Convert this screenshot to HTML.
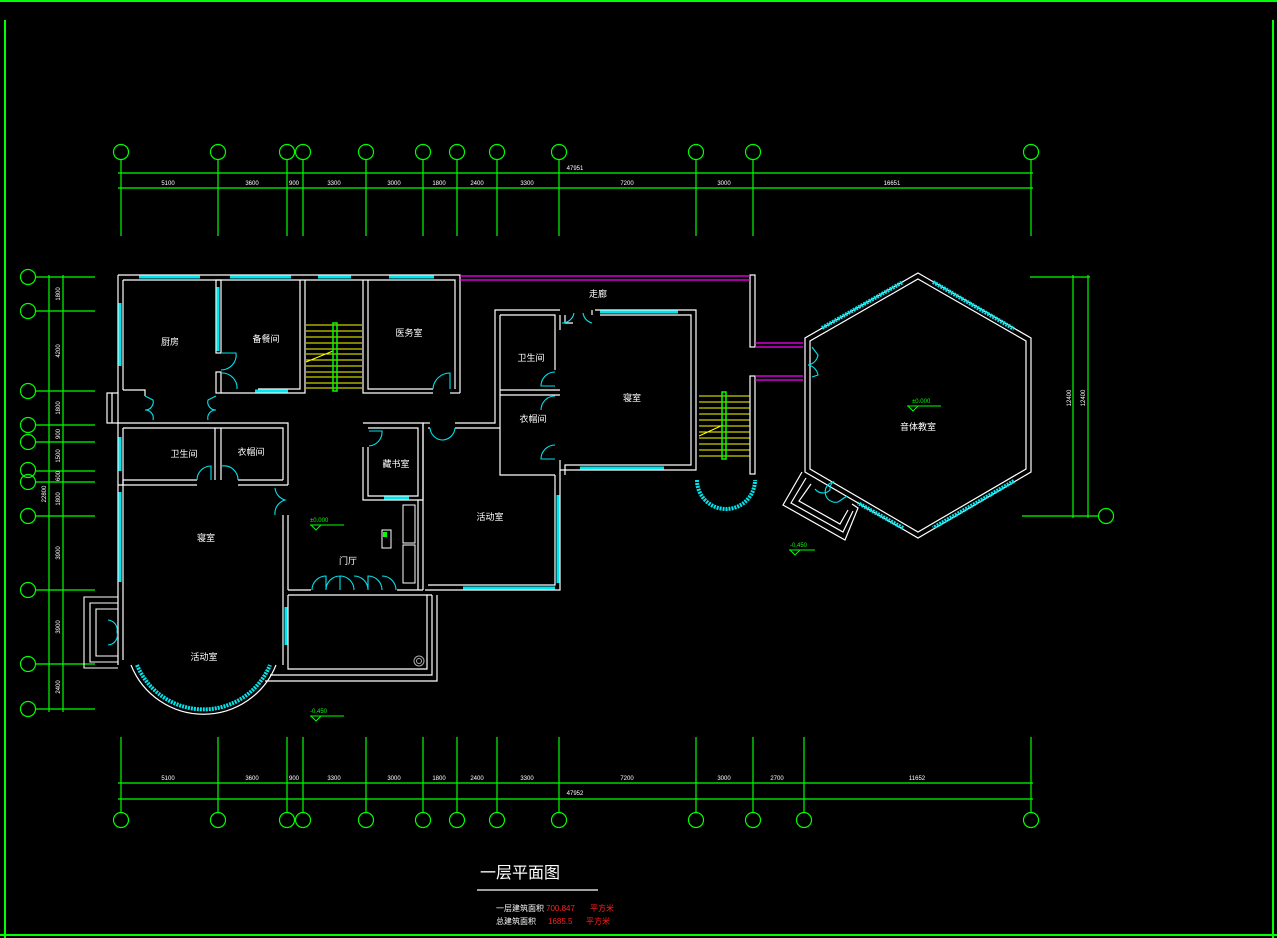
<!DOCTYPE html>
<html><head><meta charset="utf-8"><style>
html,body{margin:0;padding:0;background:#000;}
svg{display:block}
text{font-family:"Liberation Sans","Noto Sans CJK SC",sans-serif;}
</style></head><body>
<svg width="1277" height="938" viewBox="0 0 1277 938" xmlns="http://www.w3.org/2000/svg">
<rect width="1277" height="938" fill="#000"/>
<!-- frame -->
<g stroke="#00ff00" stroke-width="2" fill="none">
<line x1="0" y1="1" x2="1277" y2="1"/>
<line x1="5" y1="20" x2="5" y2="938"/>
<line x1="0" y1="935" x2="1277" y2="935"/>
<line x1="1273" y1="20" x2="1273" y2="938"/>
</g>
<!-- top axes -->
<g stroke="#00ff00" stroke-width="1.2" fill="none">
<line x1="118" y1="173" x2="1033" y2="173"/>
<line x1="118" y1="188" x2="1033" y2="188"/>
<line x1="121" y1="160" x2="121" y2="236"/><circle cx="121" cy="152" r="7.5"/>
<line x1="218" y1="160" x2="218" y2="236"/><circle cx="218" cy="152" r="7.5"/>
<line x1="287" y1="160" x2="287" y2="236"/><circle cx="287" cy="152" r="7.5"/>
<line x1="303" y1="160" x2="303" y2="236"/><circle cx="303" cy="152" r="7.5"/>
<line x1="366" y1="160" x2="366" y2="236"/><circle cx="366" cy="152" r="7.5"/>
<line x1="423" y1="160" x2="423" y2="236"/><circle cx="423" cy="152" r="7.5"/>
<line x1="457" y1="160" x2="457" y2="236"/><circle cx="457" cy="152" r="7.5"/>
<line x1="497" y1="160" x2="497" y2="236"/><circle cx="497" cy="152" r="7.5"/>
<line x1="559" y1="160" x2="559" y2="236"/><circle cx="559" cy="152" r="7.5"/>
<line x1="696" y1="160" x2="696" y2="236"/><circle cx="696" cy="152" r="7.5"/>
<line x1="753" y1="160" x2="753" y2="236"/><circle cx="753" cy="152" r="7.5"/>
<line x1="1031" y1="160" x2="1031" y2="236"/><circle cx="1031" cy="152" r="7.5"/>
</g>
<g fill="#fff" font-size="6" text-anchor="middle">
<text x="168" y="185">5100</text><text x="252" y="185">3600</text><text x="294" y="185">900</text><text x="334" y="185">3300</text><text x="394" y="185">3000</text><text x="439" y="185">1800</text><text x="477" y="185">2400</text><text x="527" y="185">3300</text><text x="627" y="185">7200</text><text x="724" y="185">3000</text><text x="892" y="185">16651</text><text x="575" y="170">47951</text>
</g>
<!-- bottom axes -->
<g stroke="#00ff00" stroke-width="1.2" fill="none">
<line x1="118" y1="783" x2="1033" y2="783"/>
<line x1="118" y1="799" x2="1033" y2="799"/>
<line x1="121" y1="737" x2="121" y2="813"/><circle cx="121" cy="820" r="7.5"/>
<line x1="218" y1="737" x2="218" y2="813"/><circle cx="218" cy="820" r="7.5"/>
<line x1="287" y1="737" x2="287" y2="813"/><circle cx="287" cy="820" r="7.5"/>
<line x1="303" y1="737" x2="303" y2="813"/><circle cx="303" cy="820" r="7.5"/>
<line x1="366" y1="737" x2="366" y2="813"/><circle cx="366" cy="820" r="7.5"/>
<line x1="423" y1="737" x2="423" y2="813"/><circle cx="423" cy="820" r="7.5"/>
<line x1="457" y1="737" x2="457" y2="813"/><circle cx="457" cy="820" r="7.5"/>
<line x1="497" y1="737" x2="497" y2="813"/><circle cx="497" cy="820" r="7.5"/>
<line x1="559" y1="737" x2="559" y2="813"/><circle cx="559" cy="820" r="7.5"/>
<line x1="696" y1="737" x2="696" y2="813"/><circle cx="696" cy="820" r="7.5"/>
<line x1="753" y1="737" x2="753" y2="813"/><circle cx="753" cy="820" r="7.5"/>
<line x1="804" y1="737" x2="804" y2="813"/><circle cx="804" cy="820" r="7.5"/>
<line x1="1031" y1="737" x2="1031" y2="813"/><circle cx="1031" cy="820" r="7.5"/>
</g>
<g fill="#fff" font-size="6" text-anchor="middle">
<text x="168" y="780">5100</text><text x="252" y="780">3600</text><text x="294" y="780">900</text><text x="334" y="780">3300</text><text x="394" y="780">3000</text><text x="439" y="780">1800</text><text x="477" y="780">2400</text><text x="527" y="780">3300</text><text x="627" y="780">7200</text><text x="724" y="780">3000</text><text x="777" y="780">2700</text><text x="917" y="780">11652</text><text x="575" y="795">47952</text>
</g>
<!-- left axes -->
<g stroke="#00ff00" stroke-width="1.2" fill="none">
<line x1="49" y1="275" x2="49" y2="712"/>
<line x1="63" y1="275" x2="63" y2="712"/>
<line x1="36" y1="277" x2="95" y2="277"/><circle cx="28" cy="277" r="7.5"/>
<line x1="36" y1="311" x2="95" y2="311"/><circle cx="28" cy="311" r="7.5"/>
<line x1="36" y1="391" x2="95" y2="391"/><circle cx="28" cy="391" r="7.5"/>
<line x1="36" y1="425" x2="95" y2="425"/><circle cx="28" cy="425" r="7.5"/>
<line x1="36" y1="442" x2="95" y2="442"/><circle cx="28" cy="442" r="7.5"/>
<line x1="36" y1="471" x2="95" y2="471"/><circle cx="28" cy="470" r="7.5"/>
<line x1="36" y1="482" x2="95" y2="482"/><circle cx="28" cy="482" r="7.5"/>
<line x1="36" y1="516" x2="95" y2="516"/><circle cx="28" cy="516" r="7.5"/>
<line x1="36" y1="590" x2="95" y2="590"/><circle cx="28" cy="590" r="7.5"/>
<line x1="36" y1="664" x2="95" y2="664"/><circle cx="28" cy="664" r="7.5"/>
<line x1="36" y1="709" x2="95" y2="709"/><circle cx="28" cy="709" r="7.5"/>
</g>
<g fill="#fff" font-size="6" text-anchor="middle">
<text transform="translate(60,294) rotate(-90)">1800</text>
<text transform="translate(60,351) rotate(-90)">4200</text>
<text transform="translate(60,408) rotate(-90)">1800</text>
<text transform="translate(60,434) rotate(-90)">900</text>
<text transform="translate(60,456) rotate(-90)">1500</text>
<text transform="translate(60,476) rotate(-90)">600</text>
<text transform="translate(60,499) rotate(-90)">1800</text>
<text transform="translate(60,553) rotate(-90)">3900</text>
<text transform="translate(60,627) rotate(-90)">3900</text>
<text transform="translate(60,687) rotate(-90)">2400</text>
<text transform="translate(46,494) rotate(-90)">22800</text>
</g>
<!-- right axes -->
<g stroke="#00ff00" stroke-width="1.2" fill="none">
<line x1="1030" y1="277" x2="1090" y2="277"/>
<line x1="1022" y1="516" x2="1098" y2="516"/>
<line x1="1073" y1="275" x2="1073" y2="518"/>
<line x1="1088" y1="275" x2="1088" y2="518"/>
<circle cx="1106" cy="516" r="7.5"/>
</g>
<g fill="#fff" font-size="6" text-anchor="middle">
<text transform="translate(1071,398) rotate(-90)">12400</text>
<text transform="translate(1085,398) rotate(-90)">12400</text>
</g>

<!-- walls -->
<g stroke="#fff" stroke-width="1.2" fill="none">
<polyline points="118,275 460,275 460,393"/>
<polyline points="123,280 455,280 455,389"/>
<line x1="118" y1="275" x2="118" y2="393"/><line x1="123" y1="280" x2="123" y2="390"/>
<polyline points="123,390 145,390 145,396"/>
<rect x="107" y="393" width="11" height="30"/><line x1="112" y1="393" x2="112" y2="423"/>
<line x1="118" y1="423" x2="118" y2="665"/><line x1="123" y1="428" x2="123" y2="660"/>
<rect x="216" y="280" width="5" height="73"/>
<rect x="216" y="372" width="5" height="21"/>
<polyline points="221,393 241,393"/><polyline points="258,389 300,389 300,280"/><polyline points="241,393 305,393 305,280"/>
<polyline points="363,280 363,393 433,393"/><polyline points="368,280 368,389 433,389"/>
<polyline points="450,393 460,393"/>
<polyline points="118,423 288,423 288,485"/>
<polyline points="123,428 283,428 283,480"/>
<line x1="215" y1="428" x2="215" y2="480"/><line x1="221" y1="428" x2="221" y2="480"/>
<polyline points="123,480 197,480"/><polyline points="238,480 283,480"/>
<polyline points="118,485 197,485"/><polyline points="238,485 288,485"/>
<line x1="123" y1="480" x2="123" y2="485"/>
<line x1="283" y1="515" x2="283" y2="665"/><line x1="288" y1="515" x2="288" y2="590"/>
<polyline points="288,590 311,590"/><polyline points="397,590 423,590"/>
<polyline points="288,595 432,595"/>
<polyline points="288,595 288,669 427,669 427,595"/>
<polyline points="270,675 432,675 432,595"/><polyline points="265,681 437,681 437,595"/>
<polyline points="363,423 423,423 423,500 363,500 363,447"/>
<polyline points="368,428 418,428 418,496 368,496 368,447"/>
<line x1="423" y1="423" x2="423" y2="590"/><line x1="418" y1="500" x2="418" y2="590"/>
<polyline points="423,423 430,423"/><polyline points="455,423 495,423 495,310 560,310"/>
<polyline points="428,428 430,428"/><polyline points="455,428 500,428"/>
<polyline points="425,590 560,590 560,470 696,470 696,310 595,310"/>
<polyline points="428,585 555,585 555,475"/>
<polyline points="500,315 555,315 555,370"/><polyline points="500,315 500,475 555,475"/>
<line x1="500" y1="390" x2="560" y2="390"/><line x1="500" y1="395" x2="560" y2="395"/>
<polyline points="560,315 560,330"/><polyline points="560,470 560,460"/>
<polyline points="565,315 565,323 573,323"/>
<polyline points="592,315 592,310"/>
<polyline points="600,315 691,315 691,465 565,465 565,475"/>
<rect x="750" y="275" width="5" height="72"/>
<rect x="750" y="376" width="5" height="98"/>
<!-- hexagon -->
<polygon points="918,273 1031,338 1031,472 918,538 805,472 805,338"/>
<polygon points="918,279 1026,341 1026,469 918,532 810,469 810,341"/>
<!-- vestibule -->
<polyline points="802,472 783,505 845,540 858,508 852,504"/>
<polyline points="806,478 791,503 843,532 853,511"/>
<polyline points="811,484 799,501 840,524 848,510"/>
</g>
<!-- magenta -->
<g stroke="#ff00ff" stroke-width="1.2">
<line x1="460" y1="276" x2="750" y2="276"/><line x1="460" y1="280" x2="750" y2="280"/>
<line x1="755" y1="343" x2="803" y2="343"/><line x1="755" y1="347" x2="803" y2="347"/>
<line x1="755" y1="376" x2="803" y2="376"/><line x1="755" y1="380" x2="803" y2="380"/>
</g>
<!-- cyan windows -->
<g stroke="#00e5ee" stroke-width="3" fill="none">
<line x1="139" y1="277" x2="200" y2="277"/><line x1="230" y1="277" x2="291" y2="277"/>
<line x1="318" y1="277" x2="351" y2="277"/><line x1="389" y1="277" x2="434" y2="277"/>
<line x1="120" y1="303" x2="120" y2="366"/><line x1="218" y1="287" x2="218" y2="351"/>
<line x1="120" y1="437" x2="120" y2="471"/><line x1="120" y1="492" x2="120" y2="582"/>
<line x1="255" y1="391" x2="288" y2="391"/><line x1="384" y1="498" x2="409" y2="498"/>
<line x1="286" y1="607" x2="286" y2="645"/><line x1="463" y1="588" x2="555" y2="588"/>
<line x1="558" y1="495" x2="558" y2="583"/><line x1="600" y1="312" x2="678" y2="312"/>
<line x1="580" y1="468" x2="664" y2="468"/>
</g>
<g stroke="#00e5ee" stroke-width="4" fill="none" stroke-dasharray="2 1">
<path d="M137,665 A72,72 0 0 0 270,665"/>
<path d="M697,480 A29,29 0 0 0 755,480"/>
<line x1="822" y1="328" x2="903" y2="282"/><line x1="933" y1="282" x2="1014" y2="329"/>
<line x1="1014" y1="481" x2="933" y2="528"/><line x1="903" y1="528" x2="858" y2="503"/>
</g>
<g stroke="#fff" stroke-width="1.2" fill="none">
<path d="M131,665 A78,78 0 0 0 276,665"/>
</g>
<!-- doors -->
<g stroke="#00e5ee" stroke-width="1.1" fill="none">
<path d="M221,353 L236,353 A15,15 0 0 1 221,370"/><path d="M222,373 A15,15 0 0 1 237,389"/>
<path d="M433,389 A17,17 0 0 1 450,373 L450,389"/>
<path d="M197,480 A14,14 0 0 1 211,466 L211,480"/><path d="M222,466 A14,14 0 0 1 238,480"/>
<path d="M145,396 L153,400 A8,8 0 0 1 145,410 A8,8 0 0 1 153,420"/>
<path d="M216,396 L208,400 A8,8 0 0 0 216,410 A8,8 0 0 0 208,420"/>
<path d="M275,488 A14,14 0 0 0 285,500 A14,14 0 0 0 275,515"/>
<path d="M369,431 L382,431 A14,14 0 0 1 369,446"/>
<path d="M430,428 A13,13 0 0 0 442,440 A13,13 0 0 0 455,428"/>
<path d="M312,590 A14,14 0 0 1 326,576 L326,590 A14,14 0 0 1 340,576 M340,590 L340,576 A14,14 0 0 1 354,590 M354,576 A14,14 0 0 1 368,590 L368,576 A14,14 0 0 1 382,590 M382,576 A14,14 0 0 1 396,590"/>
<path d="M555,372 A14,14 0 0 0 541,386 L555,386"/><path d="M555,396 A14,14 0 0 0 541,410"/><path d="M555,445 A14,14 0 0 0 541,459 L555,459"/>
<path d="M562,323 A12,12 0 0 0 574,313 M583,313 A12,12 0 0 0 592,323"/>
<path d="M812,347 L818,355 A12,12 0 0 1 808,365 A12,12 0 0 1 818,375 L812,377"/>
<path d="M815,489 A10,10 0 0 0 830,490 A10,10 0 0 1 833,482 A10,10 0 0 0 838,502 L847,496"/>
<path d="M108,620 A10,10 0 0 1 117,632 A10,10 0 0 1 108,645"/>
</g>
<g stroke="#fff" stroke-width="1.1" fill="none">
<polyline points="118,597 84,597 84,668 118,668"/><polyline points="118,603 90,603 90,662 118,662"/><polyline points="118,609 96,609 96,656 118,656"/>
</g>
<!-- stairs -->
<g stroke="#ffff00" stroke-width="1">
<line x1="306" y1="325" x2="362" y2="325"/><line x1="306" y1="331" x2="362" y2="331"/><line x1="306" y1="337" x2="362" y2="337"/><line x1="306" y1="343" x2="362" y2="343"/><line x1="306" y1="349" x2="362" y2="349"/><line x1="306" y1="354" x2="362" y2="354"/><line x1="306" y1="360" x2="362" y2="360"/><line x1="306" y1="366" x2="362" y2="366"/><line x1="306" y1="372" x2="362" y2="372"/><line x1="306" y1="377" x2="362" y2="377"/><line x1="306" y1="383" x2="362" y2="383"/><line x1="306" y1="388" x2="362" y2="388"/>
<line x1="306" y1="362" x2="333" y2="351"/>
<line x1="699" y1="396" x2="750" y2="396"/><line x1="699" y1="402" x2="750" y2="402"/><line x1="699" y1="408" x2="750" y2="408"/><line x1="699" y1="414" x2="750" y2="414"/><line x1="699" y1="420" x2="750" y2="420"/><line x1="699" y1="426" x2="750" y2="426"/><line x1="699" y1="432" x2="750" y2="432"/><line x1="699" y1="438" x2="750" y2="438"/><line x1="699" y1="444" x2="750" y2="444"/><line x1="699" y1="450" x2="750" y2="450"/><line x1="699" y1="456" x2="750" y2="456"/>
<line x1="699" y1="436" x2="723" y2="425"/>
</g>
<rect x="333" y="323" width="4" height="68" fill="none" stroke="#00ff00" stroke-width="1.5"/>
<rect x="722" y="392" width="4" height="67" fill="none" stroke="#00ff00" stroke-width="1.5"/>
<g stroke="#fff" stroke-width="1" fill="none">
<rect x="403" y="505" width="12" height="38"/><rect x="403" y="545" width="12" height="38"/>
<rect x="382" y="530" width="9" height="18"/>
<circle cx="419" cy="661" r="5" stroke="#aaa"/><circle cx="419" cy="661" r="2.5" stroke="#aaa"/>
</g>
<rect x="383" y="532" width="4" height="5" fill="#00ff00"/>
<g stroke="#00ff00" stroke-width="1" fill="none">
<line x1="310" y1="525" x2="344" y2="525"/><path d="M311,525 L316,530 L321,525"/>
<line x1="310" y1="716" x2="344" y2="716"/><path d="M311,716 L316,721 L321,716"/>
<line x1="789" y1="550" x2="815" y2="550"/><path d="M790,550 L795,555 L800,550"/>
<line x1="907" y1="406" x2="941" y2="406"/><path d="M908,406 L913,411 L918,406"/>
</g>
<g fill="#00ff00" font-size="6">
<text x="310" y="522">±0.000</text><text x="310" y="713">-0.450</text><text x="790" y="547">-0.450</text><text x="912" y="403">±0.000</text>
</g>
<g fill="#fff" font-size="9" text-anchor="middle">
<text x="170" y="345">厨房</text><text x="266" y="342">备餐间</text><text x="409" y="336">医务室</text>
<text x="184" y="457">卫生间</text><text x="251" y="455">衣帽间</text>
<text x="206" y="541">寝室</text><text x="204" y="660">活动室</text>
<text x="348" y="564">门厅</text><text x="396" y="467">藏书室</text><text x="490" y="520">活动室</text>
<text x="531" y="361">卫生间</text><text x="533" y="422">衣帽间</text><text x="632" y="401">寝室</text>
<text x="598" y="297">走廊</text><text x="918" y="430">音体教室</text>
</g>
<text x="480" y="878" fill="#fff" font-size="16">一层平面图</text>
<line x1="477" y1="890" x2="598" y2="890" stroke="#fff" stroke-width="1.2"/>
<g font-size="8">
<text x="496" y="911" fill="#fff">一层建筑面积</text><text x="546" y="911" fill="#ff2020">700.847</text><text x="590" y="911" fill="#ff2020">平方米</text>
<text x="496" y="924" fill="#fff">总建筑面积</text><text x="548" y="924" fill="#ff2020">1685.5</text><text x="586" y="924" fill="#ff2020">平方米</text>
</g>
</svg>
</body></html>
